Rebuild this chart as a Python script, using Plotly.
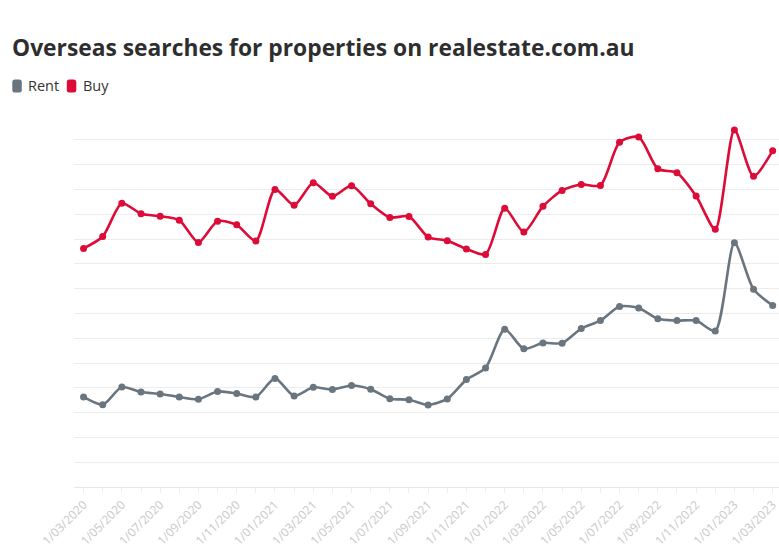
"""Overseas searches for properties on realestate.com.au (Rent vs Buy)."""

import pandas as pd
import plotly.graph_objects as go

# Monthly observations, Mar 2020 - Mar 2023 (index values, y labels hidden in source)
MONTHS = pd.date_range("2020-03-01", "2023-03-01", freq="MS")
MONTH_LABELS = [f"{d.day}/{d.month:02d}/{d.year}" for d in MONTHS]

RENT = [
    3.63, 3.32, 4.03, 3.83, 3.75, 3.63, 3.54, 3.85, 3.77, 3.63,
    4.38, 3.67, 4.02, 3.93, 4.09, 3.94, 3.56, 3.52, 3.31, 3.55,
    4.33, 4.80, 6.36, 5.57, 5.81, 5.80, 6.39, 6.71, 7.28, 7.22,
    6.78, 6.71, 6.71, 6.29, 9.85, 7.97, 7.32,
]
BUY = [
    9.62, 10.10, 11.44, 11.02, 10.92, 10.76, 9.86, 10.72, 10.57, 9.92,
    12.00, 11.36, 12.27, 11.72, 12.15, 11.42, 10.87, 10.91, 10.08, 9.93,
    9.60, 9.38, 11.24, 10.28, 11.32, 11.96, 12.20, 12.16, 13.90, 14.11,
    12.83, 12.67, 11.73, 10.39, 14.40, 12.53, 13.56,
]

SERIES = [("Rent", RENT, "#69757f"), ("Buy", BUY, "#dc0b37")]

# labels every second month, tick marks on every month
TICK_TEXT = [lab if i % 2 == 0 else "" for i, lab in enumerate(MONTH_LABELS)]

W, H = 779, 550
PLOT_L, PLOT_R, PLOT_T, PLOT_B = 74, 779, 115, 486.6


def px_to_paper(x, y):
    return (x - PLOT_L) / (PLOT_R - PLOT_L), (PLOT_B - y) / (PLOT_B - PLOT_T)


def rounded_box(x0, y0, x1, y1, r=2.5):
    """SVG path (paper coords) of a small rounded rectangle given in pixels."""
    pts = [
        ("M", x0 + r, y0), ("L", x1 - r, y0), ("Q", x1, y0, x1, y0 + r),
        ("L", x1, y1 - r), ("Q", x1, y1, x1 - r, y1), ("L", x0 + r, y1),
        ("Q", x0, y1, x0, y1 - r), ("L", x0, y0 + r), ("Q", x0, y0, x0 + r, y0),
    ]
    out = []
    for p in pts:
        cmd, coords = p[0], p[1:]
        pairs = []
        for i in range(0, len(coords), 2):
            px, py = px_to_paper(coords[i], coords[i + 1])
            pairs.append(f"{px:.5f},{py:.5f}")
        out.append(cmd + " ".join(pairs))
    return " ".join(out) + " Z"


fig = go.Figure()
for name, values, color in SERIES:
    fig.add_trace(
        go.Scatter(
            x=MONTH_LABELS,
            y=values,
            name=name,
            mode="lines+markers",
            line=dict(color=color, width=2.6, shape="spline", smoothing=0.7),
            marker=dict(color=color, size=7),
            showlegend=False,
            cliponaxis=False,
        )
    )

# custom legend: rounded swatches + labels
legend_items = [("Rent", "#69757f", 12.3, 25.5), ("Buy", "#dc0b37", 66.8, 80.5)]
for name, color, sx, tx in legend_items:
    fig.add_shape(
        type="path",
        xref="paper",
        yref="paper",
        path=rounded_box(sx, 79.5, sx + 9.5, 92.5),
        fillcolor=color,
        line=dict(width=0),
    )
    ax, ay = px_to_paper(tx, 86)
    fig.add_annotation(
        x=ax, y=ay, xref="paper", yref="paper",
        text=name, showarrow=False, xanchor="left", yanchor="middle",
        font=dict(family="Open Sans", size=14.5, color="#333333"),
    )

fig.update_layout(
    width=W,
    height=H,
    margin=dict(l=PLOT_L, r=W - PLOT_R, t=PLOT_T, b=H - PLOT_B),
    paper_bgcolor="white",
    plot_bgcolor="white",
    title=dict(
        text="<b>Overseas searches for properties on realestate.com.au</b>",
        x=12 / W,
        xanchor="left",
        y=1 - 48 / H,
        yanchor="middle",
        font=dict(family="Open Sans", size=22.8, color="#2e2e2e"),
    ),
    showlegend=False,
    hovermode="x",
)
fig.update_xaxes(
    type="category",
    range=[-0.5, 36.33],
    tickmode="array",
    tickvals=MONTH_LABELS,
    ticktext=TICK_TEXT,
    tickangle=-45,
    ticks="outside",
    ticklen=5,
    tickcolor="#eeeeee",
    tickfont=dict(family="Open Sans", size=12, color="#c8c8c8"),
    showgrid=False,
    showline=True,
    linecolor="#e6e6e6",
    automargin=False,
)
fig.update_yaxes(
    range=[0, 15],
    dtick=1,
    showticklabels=False,
    showgrid=True,
    gridcolor="#ececec",
    zeroline=True,
    zerolinecolor="#e6e6e6",
    automargin=False,
)

# drop the default page margin so the 779x550 figure fills the window exactly
fig.write_html(
    "out.html",
    config={"displayModeBar": False},
    post_script="document.body.style.margin='0';document.body.style.overflow='hidden';",
)
